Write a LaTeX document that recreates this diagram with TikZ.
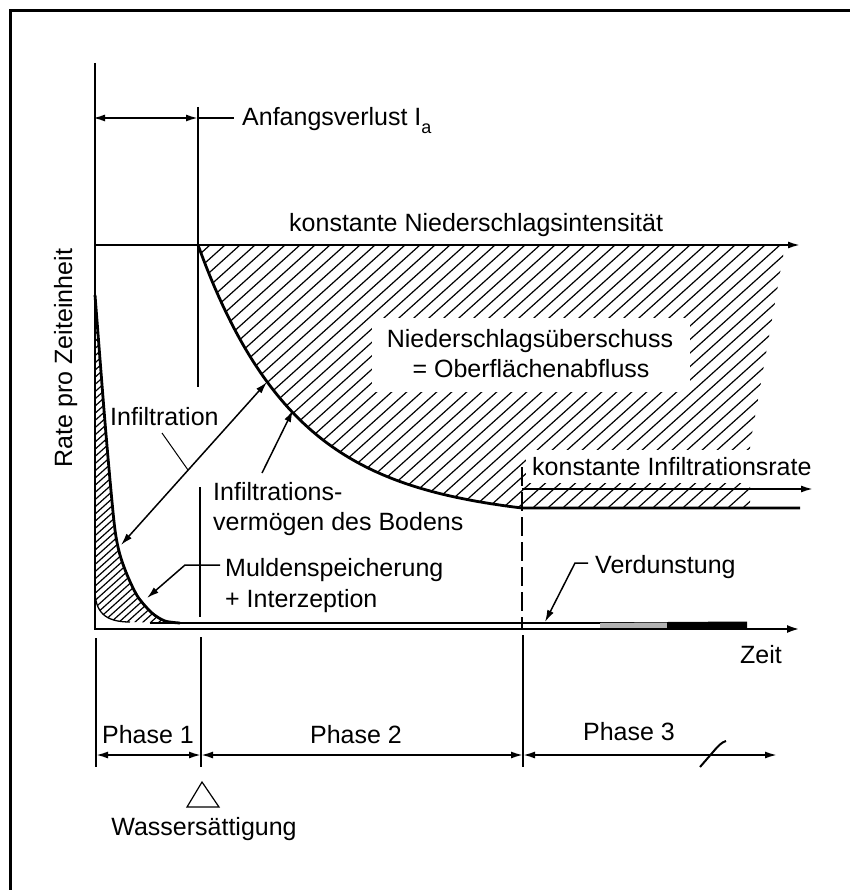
\documentclass[tikz,border=0pt]{standalone}
\usepackage{fontspec}
\setmainfont{Liberation Sans}
\usetikzlibrary{arrows.meta}
\begin{document}
\begin{tikzpicture}[x=1pt,y=-1pt,
  lbl/.style={inner sep=0pt, font=\fontsize{25}{30}\selectfont},
  tipend/.style={-{Latex[length=12pt,width=7pt]}},
  tipboth/.style={{Latex[length=12pt,width=7pt]}-{Latex[length=12pt,width=7pt]}},
  axisln/.style={line width=2.6pt},
  thinln/.style={line width=1.3pt},
  medln/.style={line width=1.8pt},
  hatchln/.style={line width=1.2pt},
  curveln/.style={line width=2.8pt},
]
\useasboundingbox (0,0) rectangle (850,890);
% frame
\draw[line width=3pt] (10,890) -- (10,11) -- (850,11);

% big hatched area
\begin{scope}
\clip (198,245) -- (785,245) -- (750,445) -- (750,508) -- (522,508) -- plot[domain=0:324,samples=80] ({522-\x},{508-263*(exp(-(324-\x)/96)-0.0342*(324-\x)/324)}) -- cycle;
\foreach \c in {200,215,...,1120} \draw[hatchln] (\c,200) -- ++(-400,360);
\end{scope}
\fill[white] (372,318) rectangle (690,392);
\fill[white] (526,450) rectangle (818,483);

% left hatched area
\begin{scope}
\clip (95,295) -- (95,590) .. controls (95,612) and (105,622) .. (130,622) -- (180,623) -- plot[smooth] coordinates {(180,623) (165,621) (152,613) (138,597) (128,577) (120,555) (115,530) (110,480) (104,410) (95,295)} -- cycle;
\foreach \c in {180,188,...,680} \draw[hatchln] (\c,200) -- ++(-500,450);
\end{scope}

% curves
\draw[curveln] plot[domain=198:522,samples=80] (\x,{508-263*(exp(-(\x-198)/96)-0.0342*(\x-198)/324)}) -- (800,508);
\draw[curveln] plot[smooth] coordinates {(95,295) (104,410) (110,480) (115,530) (120,555) (128,577) (138,597) (152,613) (165,621) (180,623)};
\draw[thinln] (95,590) .. controls (95,612) and (105,622) .. (130,622);
\draw[line width=2pt] (150,623) -- (747,623);
\fill[gray!60] (600,623) -- (667,622.5) -- (667,628) -- (600,628) -- cycle;
\fill (667,622) -- (747,621.5) -- (747,628) -- (667,628) -- cycle;

% axes
\coordinate (Ytop) at (95,63);
\coordinate (O) at (95,629);
\coordinate (Xend) at (800,629);
\draw[axisln, -{Latex[length=13pt,width=8pt]}] (Ytop) -- (O) -- (Xend);

% top line and infiltration rate line
\coordinate (N0) at (95,245);
\coordinate (N1) at (800,245);
\draw[medln, tipend] (N0) -- (N1);
\coordinate (K0) at (522,489);
\coordinate (K1) at (813,489);
\draw[medln, tipend] (K0) -- (K1);

% vertical lines
\coordinate (V0) at (198,107);
\coordinate (V1) at (198,387);
\draw[thinln] (V0) -- (V1);
\coordinate (V2) at (200,487);
\coordinate (V3) at (200,617);
\draw[thinln] (V2) -- (V3);
\coordinate (D0) at (522,467);
\coordinate (D1) at (522,629);
\draw[thinln, dash pattern=on 19pt off 6pt] (D0) -- (D1);

% Ia arrow
\coordinate (A0) at (93,118);
\coordinate (A1) at (198,118);
\coordinate (A2) at (234,118);
\draw[medln, tipboth] (A0) -- (A1);
\draw[medln] (A1) -- (A2);
\node[lbl, anchor=base west] (ia) at (242,126) {Anfangsverlust I\raisebox{-0.3em}{\fontsize{18}{18}\selectfont a}};

\node[lbl, anchor=base west] (kni) at (289,232) {konstante Niederschlagsintensität};
\node[lbl, anchor=base] (nue) at (530,347) {Niederschlagsüberschuss};
\node[lbl, anchor=base] (obf) at (531,377) {= Oberflächenabfluss};
\node[lbl, anchor=base west] (kir) at (532,475) {konstante Infiltrationsrate};

% Infiltration
\coordinate (IL) at (121,545);
\coordinate (IH) at (267,382);
\draw[line width=1.5pt, tipboth] (IL) -- (IH);
\node[lbl, anchor=base west] (inf) at (110,425) {Infiltration};
\coordinate (L0) at (162,433);
\coordinate (L1) at (188,470);
\draw[line width=1pt] (L0) -- (L1);

% Infiltrationsvermoegen
\node[lbl, anchor=base west] (iv1) at (213,500) {Infiltrations-};
\node[lbl, anchor=base west] (iv2) at (213,530) {vermögen des Bodens};
\coordinate (B0) at (262,473);
\coordinate (B1) at (293,410);
\draw[line width=1.5pt, tipend] (B0) -- (B1);

% Muldenspeicherung
\node[lbl, anchor=base west] (mu1) at (225,576) {Muldenspeicherung};
\node[lbl, anchor=base west] (mu2) at (225,607) {+ Interzeption};
\coordinate (M0) at (220,565);
\coordinate (M1) at (185,565);
\coordinate (M2) at (147,598);
\draw[line width=1.5pt, tipend] (M0) -- (M1) -- (M2);

% Verdunstung
\node[lbl, anchor=base west] (ver) at (595,573) {Verdunstung};
\coordinate (E0) at (588,563);
\coordinate (E1) at (575,563);
\coordinate (E2) at (545,622);
\draw[line width=1.5pt, tipend] (E0) -- (E1) -- (E2);

\node[lbl, anchor=base west] (zeit) at (740,663) {Zeit};
\node[lbl, anchor=base, rotate=90] (rate) at (72,358) {Rate pro Zeiteinheit};

% phases
\coordinate (P0t) at (96,638);
\coordinate (P0b) at (96,767);
\coordinate (P1t) at (201,637);
\coordinate (P1b) at (201,767);
\coordinate (P2t) at (523,635);
\coordinate (P2b) at (523,767);
\draw[axisln] (P0t) -- (P0b);
\draw[thinln] (P1t) -- (P1b);
\draw[thinln] (P2t) -- (P2b);
\coordinate (Q0) at (96,755);
\coordinate (Q1) at (201,755);
\coordinate (Q2) at (523,755);
\coordinate (Q3) at (777,755);
\draw[medln, tipboth] (Q0) -- (Q1);
\draw[medln, tipboth] (Q1) -- (Q2);
\draw[medln, tipboth] (Q2) -- (Q3);
\coordinate (BR0) at (700,767);
\coordinate (BR1) at (713,752);
\coordinate (BR2) at (726,741);
\draw[line width=2pt] (BR0) -- (BR1) .. controls (718,746) and (722,742) .. (BR2);
\node[lbl, anchor=base] (ph1) at (148,743) {Phase 1};
\node[lbl, anchor=base] (ph2) at (356,743) {Phase 2};
\node[lbl, anchor=base] (ph3) at (629,740) {Phase 3};

% Wassersaettigung
\coordinate (T0) at (202,782);
\coordinate (T1) at (219,807);
\coordinate (T2) at (187,807);
\draw[line width=1.2pt] (T0) -- (T1) -- (T2) -- cycle;
\node[lbl, anchor=base] (ws) at (204,835) {Wassersättigung};
\end{tikzpicture}
\end{document}
